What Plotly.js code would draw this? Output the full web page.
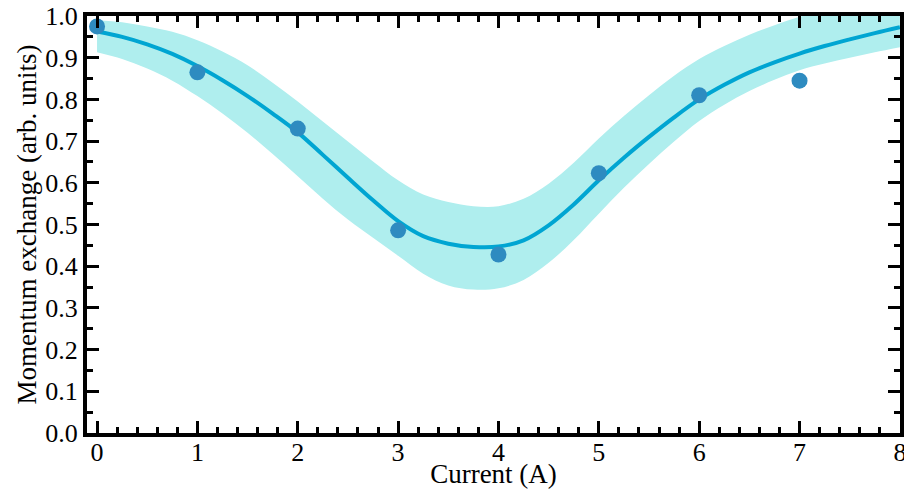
<!DOCTYPE html>
<html>
<head>
<meta charset="utf-8">
<script src="https://cdn.plot.ly/plotly-3.0.1.min.js"></script>
<style>html,body{margin:0;padding:0;background:#fff;}#chart{width:904px;height:489px;}</style>
</head>
<body>
<div id="chart"></div>
<script>
// Measured points
const currentA = [0, 1, 2, 3, 4, 5, 6, 7];
const momentum = [0.975, 0.865, 0.73, 0.486, 0.428, 0.623, 0.81, 0.845];

// Fitted curve and uncertainty band
const fitX = [0, 0.25, 0.5, 0.75, 1, 1.25, 1.5, 1.75, 2, 2.25, 2.5, 2.75, 3, 3.25, 3.5, 3.75, 4,
              4.25, 4.5, 4.75, 5, 5.25, 5.5, 5.75, 6, 6.25, 6.5, 6.75, 7, 7.25, 7.5, 7.75, 8];
const fitY = [0.963, 0.950, 0.932, 0.909, 0.880, 0.846, 0.808, 0.766, 0.721, 0.667, 0.612, 0.558, 0.508, 0.472, 0.454, 0.446, 0.447,
              0.462, 0.498, 0.548, 0.606, 0.660, 0.710, 0.757, 0.800, 0.835, 0.865, 0.889, 0.910, 0.928, 0.944, 0.959, 0.973];
const bandUpper = [0.990, 0.985, 0.975, 0.962, 0.942, 0.915, 0.882, 0.840, 0.795, 0.747, 0.699, 0.651, 0.606, 0.572, 0.554, 0.544, 0.544,
                   0.562, 0.598, 0.648, 0.706, 0.760, 0.810, 0.857, 0.897, 0.928, 0.955, 0.978, 0.998, 1.013, 1.024, 1.032, 1.038];
const bandLower = [0.913, 0.897, 0.874, 0.845, 0.808, 0.766, 0.720, 0.669, 0.616, 0.562, 0.512, 0.468, 0.425, 0.382, 0.354, 0.344, 0.347,
                   0.367, 0.408, 0.463, 0.526, 0.588, 0.645, 0.699, 0.748, 0.787, 0.820, 0.847, 0.870, 0.886, 0.900, 0.913, 0.925];

const font = "'Liberation Serif', 'Times New Roman', serif";

const traces = [
  {x: fitX, y: bandLower, mode: 'lines', line: {width: 0, shape: 'spline', color: 'rgba(0,0,0,0)'}, showlegend: false, hoverinfo: 'skip'},
  {x: fitX, y: bandUpper, mode: 'lines', fill: 'tonexty', fillcolor: '#afeeee', line: {width: 0, shape: 'spline', color: 'rgba(0,0,0,0)'}, showlegend: false, hoverinfo: 'skip'},
  {x: fitX, y: fitY, mode: 'lines', line: {width: 4, shape: 'spline', color: '#00a5d2'}, showlegend: false},
  {x: currentA, y: momentum, mode: 'markers', marker: {size: 16, color: '#2e8bc0'}, showlegend: false}
];

const axisCommon = {
  showline: true, linecolor: '#000', linewidth: 4, mirror: 'allticks',
  ticks: 'inside', ticklen: 12, tickwidth: 3, tickcolor: '#000',
  showgrid: false, zeroline: false,
  ticklabeloverflow: 'allow',
  tickfont: {family: font, size: 26, color: '#000'}
};

const layout = {
  width: 904, height: 489,
  margin: {l: 87, r: 4, t: 16, b: 56},
  paper_bgcolor: '#fff', plot_bgcolor: '#fff',
  font: {family: font, color: '#000'},
  xaxis: Object.assign({}, axisCommon, {
    range: [-0.1, 8.001], dtick: 1, tick0: 0,
    ticklabelstandoff: -7,
    minor: {dtick: 0.2, tick0: 0, ticks: 'inside', ticklen: 6, tickwidth: 3, tickcolor: '#000'},
    title: {text: 'Current (A)', font: {family: font, size: 27, color: '#000'}, standoff: 3}
  }),
  yaxis: Object.assign({}, axisCommon, {
    range: [0, 1], dtick: 0.1, tick0: 0, tickformat: '.1f',
    minor: {dtick: 0.05, tick0: 0, ticks: 'inside', ticklen: 6, tickwidth: 3, tickcolor: '#000'},
    title: {text: 'Momentum exchange (arb. units)', font: {family: font, size: 27, color: '#000'}, standoff: 2}
  })
};

Plotly.newPlot('chart', traces, layout, {staticPlot: true, displayModeBar: false});
</script>
</body>
</html>
